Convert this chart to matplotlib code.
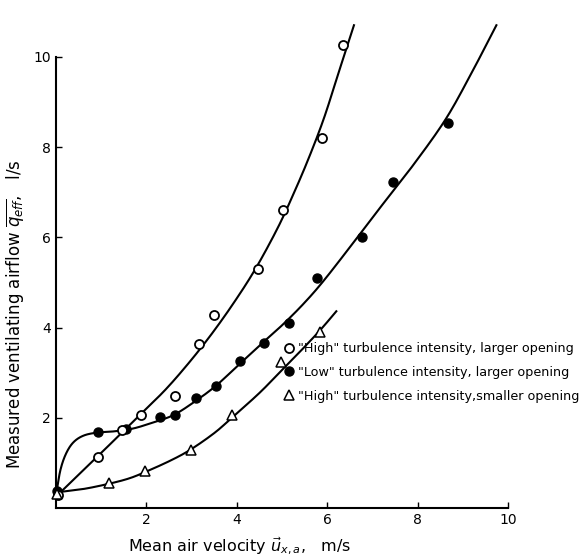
import numpy as np
import matplotlib
matplotlib.use("Agg")
import matplotlib.pyplot as plt

# measured points
high_x = [0.05, 0.93, 1.45, 1.89, 2.64, 3.16, 3.50, 4.47, 5.03, 5.88, 6.35]
high_y = [0.28, 1.13, 1.73, 2.07, 2.48, 3.64, 4.28, 5.30, 6.60, 8.19, 10.27]

low_x = [0.02, 0.92, 1.55, 2.29, 2.64, 3.10, 3.55, 4.07, 4.59, 5.16, 5.78, 6.77, 7.46, 8.66]
low_y = [0.38, 1.68, 1.75, 2.01, 2.06, 2.43, 2.70, 3.25, 3.66, 4.11, 5.10, 6.00, 7.22, 8.54]

small_x = [0.03, 1.17, 1.97, 2.99, 3.90, 4.98, 5.85]
small_y = [0.30, 0.56, 0.81, 1.28, 2.06, 3.23, 3.89]

# fitted curves
high_cx = [0.05, 1.0, 1.87, 2.4, 2.9, 3.4, 3.9, 4.4, 4.9, 5.27, 5.6, 5.93, 6.26, 6.59]
high_cy = [0.30, 1.22, 2.08, 2.60, 3.17, 3.80, 4.50, 5.28, 6.20, 7.00, 7.78, 8.65, 9.68, 10.7]

low_cx = [0.02, 0.1, 0.22, 0.38, 0.6, 0.9, 1.3, 1.7, 2.1, 2.6, 3.1, 3.55,
          4.07, 4.59, 5.0, 5.45, 5.89, 6.5, 7.14, 7.9, 8.62, 9.2, 9.74]
low_cy = [0.40, 0.85, 1.20, 1.45, 1.60, 1.67, 1.70, 1.76, 1.88, 2.06, 2.38, 2.72,
          3.20, 3.68, 4.05, 4.50, 5.00, 5.78, 6.62, 7.60, 8.62, 9.66, 10.7]

small_cx = [0.05, 0.6, 1.14, 1.6, 1.98, 2.53, 2.97, 3.5, 3.89, 4.5, 4.99, 5.43, 5.85, 6.2]
small_cy = [0.35, 0.42, 0.53, 0.65, 0.80, 1.05, 1.29, 1.66, 2.00, 2.55, 3.05, 3.50, 3.95, 4.36]

xticks = [2, 4, 6, 8, 10]
yticks = [2, 4, 6, 8, 10]

labels = ['"High" turbulence intensity, larger opening',
          '"Low" turbulence intensity, larger opening',
          '"High" turbulence intensity,smaller opening']


def smooth(xs, ys, n=20):
    # catmull-rom through the traced points, just for a smooth pen stroke
    p = np.column_stack([xs, ys])
    p = np.vstack([2 * p[0] - p[1], p, 2 * p[-1] - p[-2]])
    out = []
    t = np.linspace(0, 1, n, endpoint=False)[:, None]
    for i in range(1, len(p) - 2):
        p0, p1, p2, p3 = p[i - 1], p[i], p[i + 1], p[i + 2]
        seg = 0.5 * ((2 * p1) + (-p0 + p2) * t + (2 * p0 - 5 * p1 + 4 * p2 - p3) * t ** 2
                     + (-p0 + 3 * p1 - 3 * p2 + p3) * t ** 3)
        out.append(seg)
    out.append(p[-2][None, :])
    out = np.vstack(out)
    return out[:, 0], out[:, 1]


plt.rcParams['font.family'] = 'DejaVu Sans'

fig = plt.figure(figsize=(5.88, 5.57), dpi=100)
ax = fig.add_axes([0.0952, 0.088, 0.769, 0.810])

for cx, cy in [(high_cx, high_cy), (low_cx, low_cy), (small_cx, small_cy)]:
    sx, sy = smooth(cx, cy)
    ax.plot(sx, sy, color='black', lw=1.5, clip_on=False)

ax.plot(high_x, high_y, 'o', ms=6.5, mfc='white', mec='black', mew=1.3, ls='none',
        label=labels[0], clip_on=False, zorder=4)
ax.plot(low_x, low_y, 'o', ms=6.5, mfc='black', mec='black', ls='none',
        label=labels[1], clip_on=False, zorder=3)
ax.plot(small_x, small_y, '^', ms=6.5, mfc='white', mec='black', mew=1.1, ls='none',
        label=labels[2], clip_on=False, zorder=4)

ax.set_xlim(0, 10)
ax.set_ylim(0, 10)
ax.set_xticks(xticks)
ax.set_yticks(yticks)
ax.tick_params(direction='in', length=4, width=1, labelsize=10)
for s in ['top', 'right']:
    ax.spines[s].set_visible(False)
for s in ['left', 'bottom']:
    ax.spines[s].set_linewidth(1.5)

ax.set_xlabel(r'Mean air velocity $\vec{u}_{x,a}$,   m/s', fontsize=11.5)
ax.xaxis.set_label_coords(0.407, -0.062)
ax.set_ylabel(r'Measured ventilating airflow $\overline{q_{eff}}$,   l/s', fontsize=12)
ax.yaxis.set_label_coords(-0.064, 0.43)

ax.legend(loc='upper left', bbox_to_anchor=(0.485, 0.386), bbox_transform=fig.transFigure,
          frameon=False, fontsize=9.2, handlelength=0.6, handletextpad=0.4,
          labelspacing=0.85, borderpad=0, borderaxespad=0)

fig.savefig('out.png', dpi=100)
